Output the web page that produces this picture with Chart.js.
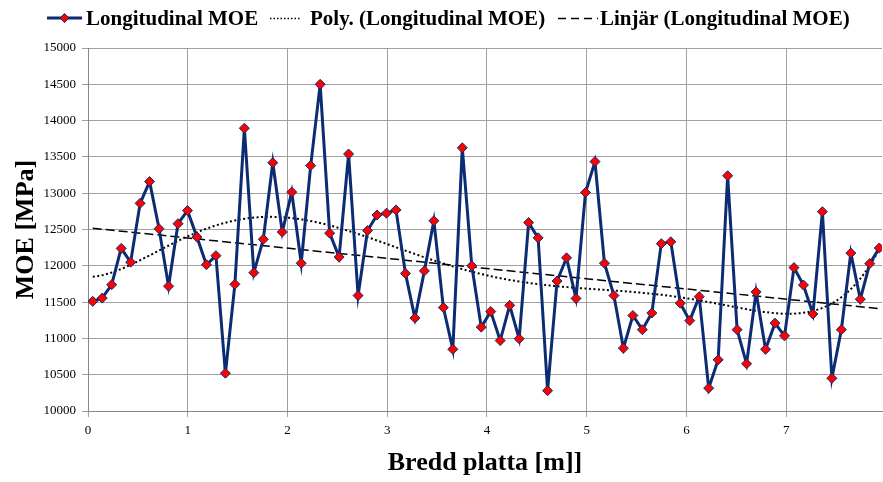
<!DOCTYPE html>
<html>
<head>
<meta charset="utf-8">
<script src="https://cdn.jsdelivr.net/npm/chart.js@4.4.1/dist/chart.umd.min.js"></script>
<style>
  html, body { margin: 0; padding: 0; background: #ffffff; }
  #wrap { width: 883px; height: 482px; position: relative; }
</style>
</head>
<body>
<div id="wrap"><canvas id="c" width="883" height="482"></canvas></div>
<script>
// ---- Data ----
const positions = [
  0.0475, 0.1425, 0.2375, 0.3325, 0.4275, 0.5225, 0.6175, 0.7125, 0.8075, 0.9025,
  0.9975, 1.0925, 1.1875, 1.2825, 1.3775, 1.4725, 1.5675, 1.6625, 1.7575, 1.8525,
  1.9475, 2.0425, 2.1375, 2.2325, 2.3275, 2.4225, 2.5175, 2.6125, 2.7075, 2.8025,
  2.8975, 2.9925, 3.0875, 3.1825, 3.2775, 3.3725, 3.4675, 3.5625, 3.6575, 3.7525,
  3.8475, 3.9425, 4.0375, 4.1325, 4.2275, 4.3225, 4.4175, 4.5125, 4.6075, 4.7025,
  4.7975, 4.8925, 4.9875, 5.0825, 5.1775, 5.2725, 5.3675, 5.4625, 5.5575, 5.6525,
  5.7475, 5.8425, 5.9375, 6.0325, 6.1275, 6.2225, 6.3175, 6.4125, 6.5075, 6.6025,
  6.6975, 6.7925, 6.8875, 6.9825, 7.0775, 7.1725, 7.2675, 7.3625, 7.4575, 7.5525,
  7.6475, 7.7425, 7.8375, 7.9325
];
const longitudinalMOE = [
  11510, 11555, 11740, 12240, 12050, 12860, 13160, 12510, 11720, 12580,
  12760, 12395, 12015, 12140, 10520, 11745, 13895, 11905, 12365, 13420,
  12465, 13015, 12035, 13380, 14500, 12450, 12120, 13540, 11590, 12485,
  12700, 12725, 12770, 11895, 11280, 11930, 12620, 11425, 10850, 13625,
  12000, 11155, 11370, 10970, 11455, 10995, 12595, 12385, 10280, 11790,
  12110, 11550, 13010, 13435, 12035, 11590, 10865, 11315, 11120, 11350,
  12305, 12330, 11485, 11245, 11575, 10315, 10705, 13240, 11120, 10650,
  11640, 10850, 11210, 11035, 11975, 11735, 11335, 12745, 10450, 11120,
  12175, 11540, 12030, 12245
];
const xTickValues = [0, 1, 2, 3, 4, 5, 6, 7];
const legendLabels = ['Longitudinal MOE', 'Poly. (Longitudinal MOE)', 'Linjär (Longitudinal MOE)'];
const xTitle = 'Bredd platta [m]]';
const yTitle = 'MOE [MPa]';
const polyOrder = 6;

// ---- Trendlines (least squares fits of the series, as the spreadsheet does) ----
function linearFit(xs, ys) {
  const n = xs.length;
  let sx = 0, sy = 0, sxx = 0, sxy = 0;
  for (let i = 0; i < n; i++) { sx += xs[i]; sy += ys[i]; sxx += xs[i]*xs[i]; sxy += xs[i]*ys[i]; }
  const b = (n*sxy - sx*sy) / (n*sxx - sx*sx);
  const a = (sy - b*sx) / n;
  return x => a + b*x;
}
function polyFit(xs, ys, order) {
  const c = 4, s = 4; // scale x for numerical stability
  const m = order + 1;
  const A = Array.from({length: m}, () => new Array(m + 1).fill(0));
  for (let k = 0; k < xs.length; k++) {
    const t = (xs[k] - c) / s;
    const pw = [1];
    for (let j = 1; j < 2*m; j++) pw.push(pw[j-1]*t);
    for (let i = 0; i < m; i++) {
      for (let j = 0; j < m; j++) A[i][j] += pw[i+j];
      A[i][m] += pw[i]*ys[k];
    }
  }
  for (let i = 0; i < m; i++) {
    let p = i;
    for (let r = i+1; r < m; r++) if (Math.abs(A[r][i]) > Math.abs(A[p][i])) p = r;
    [A[i], A[p]] = [A[p], A[i]];
    for (let r = 0; r < m; r++) {
      if (r === i) continue;
      const f = A[r][i] / A[i][i];
      for (let j = i; j <= m; j++) A[r][j] -= f*A[i][j];
    }
  }
  const coef = A.map((row, i) => row[m] / row[i]);
  return x => { const t = (x - c)/s; let v = 0, p = 1; for (const co of coef) { v += co*p; p *= t; } return v; };
}
const linF = linearFit(positions, longitudinalMOE);
const polyF = polyFit(positions, longitudinalMOE, polyOrder);
const xFirst = positions[0], xLast = positions[positions.length - 1];
const polyPts = [];
for (let i = 0; i <= 300; i++) { const x = xFirst + (xLast - xFirst)*i/300; polyPts.push({x, y: polyF(x)}); }
const linPts = [{x: xFirst, y: linF(xFirst)}, {x: xLast, y: linF(xLast)}];

const NAVY = '#0b2c72';
const SERIF = '"Liberation Serif", "Times New Roman", serif';

// stretch the plot area to the right edge like the reference (Chart.js keeps a few px spare)
const areaPlugin = {
  id: 'areaRight',
  afterLayout(chart) {
    const a = chart.chartArea;
    const d = (chart.width - 1) - a.right;
    if (d <= 0) return;
    a.right += d; a.width = a.right - a.left;
    const x = chart.scales.x;
    x.right += d; x.width += d;
    x.configure();
  }
};

const legendPlugin = {
  id: 'customLegend',
  afterDraw(chart) {
    const ctx = chart.ctx;
    ctx.save();
    const yLine = 18, yText = 25;
    // item 1: line + diamond
    ctx.strokeStyle = NAVY; ctx.lineWidth = 3; ctx.setLineDash([]);
    ctx.beginPath(); ctx.moveTo(47, yLine); ctx.lineTo(82, yLine); ctx.stroke();
    ctx.beginPath();
    const cx = 64.5, r = 4.5;
    ctx.moveTo(cx, yLine - r); ctx.lineTo(cx + r, yLine); ctx.lineTo(cx, yLine + r); ctx.lineTo(cx - r, yLine); ctx.closePath();
    ctx.fillStyle = '#ff0000'; ctx.fill(); ctx.lineWidth = 1; ctx.strokeStyle = NAVY; ctx.stroke();
    // item 2: dotted
    ctx.strokeStyle = '#000'; ctx.lineWidth = 1.5; ctx.setLineDash([1.5, 2]);
    ctx.beginPath(); ctx.moveTo(270, yLine + 0.5); ctx.lineTo(301, yLine + 0.5); ctx.stroke();
    // item 3: dashed
    ctx.lineWidth = 1.5; ctx.setLineDash([8, 5]);
    ctx.beginPath(); ctx.moveTo(558, yLine + 0.5); ctx.lineTo(598, yLine + 0.5); ctx.stroke();
    ctx.setLineDash([]);
    ctx.fillStyle = '#000';
    ctx.font = 'bold 21px ' + SERIF;
    ctx.textBaseline = 'alphabetic'; ctx.textAlign = 'left';
    ctx.fillText(legendLabels[0], 86, yText);
    ctx.fillText(legendLabels[1], 310, yText);
    ctx.fillText(legendLabels[2], 600, yText);
    ctx.restore();
  }
};

new Chart(document.getElementById('c'), {
  type: 'scatter',
  data: {
    datasets: [
      {
        label: legendLabels[0],
        data: positions.map((x, i) => ({x, y: longitudinalMOE[i]})),
        showLine: true,
        borderColor: NAVY,
        borderWidth: 3,
        pointStyle: 'rectRot',
        pointRadius: 5,
        pointBackgroundColor: '#ff0000',
        pointBorderColor: NAVY,
        pointBorderWidth: 1,
        order: 0
      },
      {
        label: legendLabels[1],
        data: polyPts,
        showLine: true,
        borderColor: '#000',
        borderWidth: 2,
        borderDash: [2, 2.5],
        pointRadius: 0,
        order: 1
      },
      {
        label: legendLabels[2],
        data: linPts,
        showLine: true,
        borderColor: '#000',
        borderWidth: 1.5,
        borderDash: [9, 4],
        pointRadius: 0,
        order: 2
      }
    ]
  },
  options: {
    responsive: false,
    animation: false,
    devicePixelRatio: 1,
    layout: { padding: { top: 48, right: 1, left: 0, bottom: 0 } },
    plugins: { legend: { display: false }, tooltip: { enabled: false } },
    scales: {
      x: {
        type: 'linear',
        min: 0, max: 7.96,
        afterBuildTicks: s => { s.ticks = xTickValues.map(v => ({value: v})); },
        afterFit: s => { s.height = 71; },
        grid: { color: '#a0a0a0', lineWidth: 1, tickLength: 6, drawTicks: true },
        border: { color: '#888', width: 1 },
        ticks: { color: '#000', font: { family: SERIF, size: 13 }, padding: 6, maxRotation: 0,
                 callback: v => String(v) },
        title: { display: true, text: xTitle, color: '#000',
                 font: { family: SERIF, size: 26, weight: 'bold', lineHeight: 1.2 },
                 padding: { top: 0, bottom: 3 } }
      },
      y: {
        min: 10000, max: 15000,
        afterFit: s => { s.width = 88; },
        grid: { color: '#a0a0a0', lineWidth: 1, tickLength: 6 },
        border: { color: '#888', width: 1 },
        ticks: { stepSize: 500, color: '#000', font: { family: SERIF, size: 13 }, padding: 6,
                 callback: v => String(v) },
        title: { display: true, text: yTitle, color: '#000',
                 font: { family: SERIF, size: 26, weight: 'bold', lineHeight: 1.2 },
                 padding: { top: 11, bottom: 0 } }
      }
    }
  },
  plugins: [areaPlugin, legendPlugin]
});
</script>
</body>
</html>
